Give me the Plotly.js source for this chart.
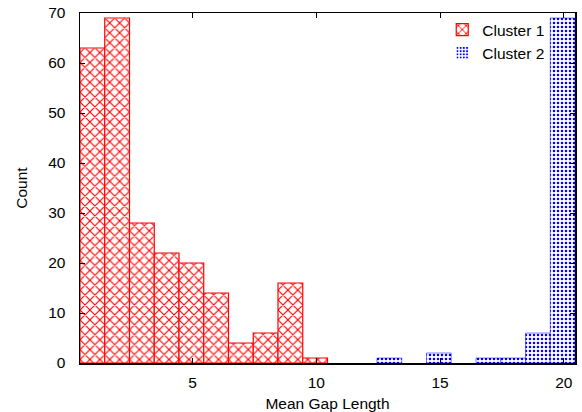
<!DOCTYPE html>
<html>
<head>
<meta charset="utf-8">
<script src="https://cdn.plot.ly/plotly-3.0.1.min.js"></script>
<style>html,body{margin:0;padding:0;background:#fff;}#chart{width:582px;height:412px;}</style>
</head>
<body>
<div id="chart"></div>
<script>
// Bin centres (mean gap length) and counts
const binCenters = [0.95,1.95,2.95,3.95,4.95,5.95,6.95,7.95,8.95,9.95,10.95,11.95,12.95,13.95,14.95,15.95,16.95,17.95,18.95,19.95];
const cluster1 = [63,69,28,22,20,14,4,6,16,1,0,0,0,0,0,0,0,0,0,0];
const cluster2 = [0,0,0,0,0,0,0,0,0,0,0,0,1,0,2,0,1,1,6,69];
const seriesNames = ['Cluster 1','Cluster 2'];
const xTicks = [5,10,15,20];
const yTicks = [0,10,20,30,40,50,60,70];

const font = {family: 'Liberation Sans, Arial, sans-serif', size: 15.5, color: '#000'};
// empty bins get no outline
const outline = (vals, w) => vals.map(v => v > 0 ? w : 0);

const traces = [
  {
    type: 'bar', x: binCenters, y: cluster1, name: seriesNames[0], width: 1,
    marker: {color: '#fff', line: {color: '#ff0000', width: outline(cluster1, 1.2)},
      pattern: {shape: 'x', fgcolor: '#ff0000', bgcolor: '#fff', fgopacity: 1, size: 7, solidity: 0.3, fillmode: 'overlay'}}
  },
  {
    type: 'bar', x: binCenters, y: cluster2, name: seriesNames[1], width: 1,
    marker: {color: '#fff', line: {color: '#0000ff', width: outline(cluster2, 0.5)},
      pattern: {shape: '.', fgcolor: '#0000ff', bgcolor: '#fff', fgopacity: 1, size: 4, solidity: 0.32, fillmode: 'overlay'}}
  }
];

const layout = {
  width: 582, height: 412,
  margin: {l: 80, r: 7, t: 13, b: 49, autoexpand: false},
  paper_bgcolor: '#fff', plot_bgcolor: '#fff',
  font: font,
  barmode: 'overlay',
  bargap: 0,
  showlegend: true,
  legend: {x: 0.95, xanchor: 'right', y: 1.0, yanchor: 'top', bgcolor: 'rgba(0,0,0,0)',
    font: font, tracegroupgap: 0, itemwidth: 30},
  xaxis: {
    range: [0.45, 20.45], tickvals: xTicks, ticktext: xTicks.map(String),
    showgrid: false, zeroline: false, showline: true, mirror: 'ticks',
    linecolor: '#000', linewidth: 1.5, ticks: 'inside', ticklen: 5, tickcolor: '#000', tickwidth: 1,
    ticklabelstandoff: 5,
    title: {text: 'Mean Gap Length', font: font, standoff: 8}
  },
  yaxis: {
    range: [0, 70], tickvals: yTicks, ticktext: yTicks.map(String),
    showgrid: false, zeroline: false, showline: true, mirror: 'ticks',
    linecolor: '#000', linewidth: 1.5, ticks: 'inside', ticklen: 5, tickcolor: '#000', tickwidth: 1,
    ticklabelstandoff: 10,
    title: {text: 'Count', font: font, standoff: 16}
  }
};

Plotly.newPlot('chart', traces, layout, {staticPlot: true, displayModeBar: false});
</script>
</body>
</html>
